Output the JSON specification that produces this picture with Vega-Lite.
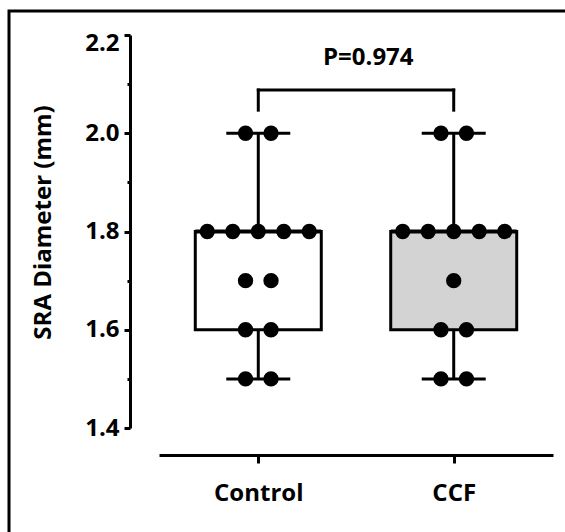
{
  "$schema": "https://vega.github.io/schema/vega-lite/v6.json",
  "width": 559,
  "height": 524,
  "autosize": {"type": "none"},
  "padding": {"left": 9, "top": 11, "right": -3, "bottom": -3},
  "view": {"stroke": "black", "strokeWidth": 3},
  "config": {
    "font": "Open Sans"
  },
  "datasets": {
    "points": [
      {"group": "Control", "value": 2.0, "k": -0.5},
      {"group": "Control", "value": 2.0, "k": 0.5},
      {"group": "Control", "value": 1.8, "k": -2},
      {"group": "Control", "value": 1.8, "k": -1},
      {"group": "Control", "value": 1.8, "k": 0},
      {"group": "Control", "value": 1.8, "k": 1},
      {"group": "Control", "value": 1.8, "k": 2},
      {"group": "Control", "value": 1.7, "k": -0.5},
      {"group": "Control", "value": 1.7, "k": 0.5},
      {"group": "Control", "value": 1.6, "k": -0.5},
      {"group": "Control", "value": 1.6, "k": 0.5},
      {"group": "Control", "value": 1.5, "k": -0.5},
      {"group": "Control", "value": 1.5, "k": 0.5},
      {"group": "CCF", "value": 2.0, "k": -0.5},
      {"group": "CCF", "value": 2.0, "k": 0.5},
      {"group": "CCF", "value": 1.8, "k": -2},
      {"group": "CCF", "value": 1.8, "k": -1},
      {"group": "CCF", "value": 1.8, "k": 0},
      {"group": "CCF", "value": 1.8, "k": 1},
      {"group": "CCF", "value": 1.8, "k": 2},
      {"group": "CCF", "value": 1.7, "k": 0},
      {"group": "CCF", "value": 1.6, "k": -0.5},
      {"group": "CCF", "value": 1.6, "k": 0.5},
      {"group": "CCF", "value": 1.5, "k": -0.5},
      {"group": "CCF", "value": 1.5, "k": 0.5}
    ]
  },
  "data": {"name": "points"},
  "encoding": {
    "x": {
      "field": "group",
      "type": "nominal",
      "sort": ["Control", "CCF"],
      "scale": {"type": "point", "domain": ["Control", "CCF"], "range": [150, 544], "padding": 0.508},
      "axis": {
        "title": null,
        "offset": -80,
        "domainWidth": 3,
        "domainColor": "black",
        "tickWidth": 3,
        "tickSize": 8,
        "tickColor": "black",
        "labelFont": "Open Sans",
        "labelFontWeight": "bold",
        "labelFontSize": 24,
        "labelColor": "black",
        "labelPadding": 18,
        "labelAngle": 0,
        "grid": false
      }
    }
  },
  "layer": [
    {
      "mark": {"type": "rule", "strokeWidth": 3, "color": "black"},
      "encoding": {
        "y": {"aggregate": "min", "field": "value", "type": "quantitative"},
        "y2": {"aggregate": "max", "field": "value"}
      }
    },
    {
      "mark": {"type": "bar", "size": 126, "stroke": "black", "strokeWidth": 3},
      "encoding": {
        "y": {"aggregate": "q1", "field": "value", "type": "quantitative"},
        "y2": {"aggregate": "q3", "field": "value"},
        "fill": {
          "field": "group",
          "type": "nominal",
          "scale": {"domain": ["Control", "CCF"], "range": ["white", "#d3d3d3"]},
          "legend": null
        }
      }
    },
    {
      "mark": {"type": "tick", "size": 126, "thickness": 4, "color": "black", "opacity": 1},
      "encoding": {
        "y": {"aggregate": "median", "field": "value", "type": "quantitative"}
      }
    },
    {
      "transform": [
        {"aggregate": [{"op": "min", "field": "value", "as": "lo"}, {"op": "max", "field": "value", "as": "hi"}], "groupby": ["group"]},
        {"fold": ["lo", "hi"], "as": ["which", "v"]}
      ],
      "mark": {"type": "tick", "size": 64, "thickness": 3, "color": "black", "opacity": 1},
      "encoding": {
        "y": {"field": "v", "type": "quantitative"}
      }
    },
    {
      "mark": {"type": "circle", "size": 235, "color": "black", "opacity": 1},
      "encoding": {
        "xOffset": {"field": "k", "type": "quantitative", "scale": {"domain": [-2, 2], "range": [-51, 51]}},
        "y": {
          "field": "value",
          "type": "quantitative",
          "scale": {"domain": [1.4, 2.2], "range": [417, 24], "nice": false, "zero": false},
          "axis": {
            "title": "SRA Diameter (mm)",
            "offset": -121,
            "values": [1.4, 1.45, 1.5, 1.55, 1.6, 1.65, 1.7, 1.75, 1.8, 1.85, 1.9, 1.95, 2.0, 2.05, 2.1, 2.15, 2.2],
            "labelExpr": "round(datum.value*100) % 20 === 0 ? format(datum.value, '.1f') : ''",
            "tickSize": {"condition": {"test": "round(datum.value*100) % 20 === 0", "value": 6}, "value": 3},
            "tickWidth": 3,
            "tickColor": "black",
            "domainWidth": 3,
            "domainColor": "black",
            "labelFont": "Open Sans",
            "labelFontWeight": "bold",
            "labelFontSize": 24,
            "labelColor": "black",
            "labelPadding": 5,
            "labelOffset": {"condition": {"test": "datum.value > 2.19", "value": 8}, "value": 0},
            "titleFont": "Open Sans",
            "titleFontWeight": "bold",
            "titleFontSize": 24,
            "titleColor": "black",
            "titleAngle": 270,
            "titleAlign": "center",
            "titleBaseline": "middle",
            "titleX": -87,
            "titleY": 211,
            "grid": false
          }
        }
      }
    },
    {
      "data": {"values": [
        {"group": "Control", "y1": 2.047, "y2": 2.088},
        {"group": "CCF", "y1": 2.047, "y2": 2.088}
      ]},
      "mark": {"type": "rule", "strokeWidth": 3, "color": "black", "strokeCap": "square"},
      "encoding": {
        "y": {"field": "y1", "type": "quantitative"},
        "y2": {"field": "y2"}
      }
    },
    {
      "data": {"values": [{"g1": "Control", "g2": "CCF", "y": 2.088}]},
      "mark": {"type": "rule", "strokeWidth": 3, "color": "black", "strokeCap": "square"},
      "encoding": {
        "x": {"field": "g1", "type": "nominal"},
        "x2": {"field": "g2"},
        "y": {"field": "y", "type": "quantitative"}
      }
    },
    {
      "data": {"values": [{"group": "Control", "y": 2.153, "label": "P=0.974"}]},
      "mark": {"type": "text", "font": "Open Sans", "fontWeight": "bold", "fontSize": 24, "align": "center", "baseline": "middle", "dx": 110, "color": "black"},
      "encoding": {
        "y": {"field": "y", "type": "quantitative"},
        "text": {"field": "label", "type": "nominal"}
      }
    }
  ]
}
